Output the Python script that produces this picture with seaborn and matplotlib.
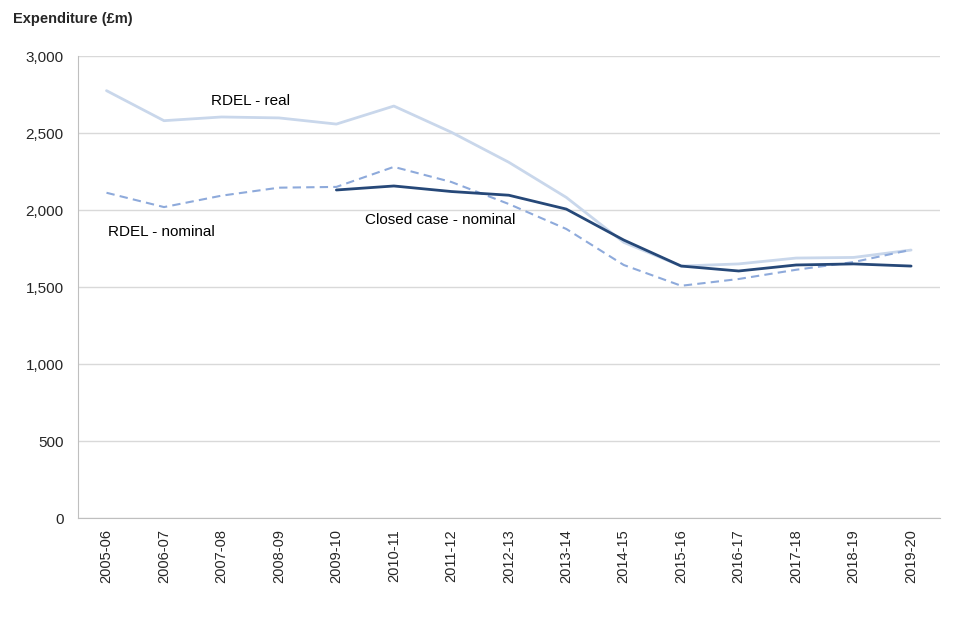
import numpy as np
import pandas as pd
import matplotlib
matplotlib.use('Agg')
import matplotlib.pyplot as plt
import seaborn as sns

years = ['2005-06', '2006-07', '2007-08', '2008-09', '2009-10', '2010-11', '2011-12',
         '2012-13', '2013-14', '2014-15', '2015-16', '2016-17', '2017-18', '2018-19', '2019-20']

rdel_real = [2775, 2580, 2604, 2598, 2558, 2675, 2505, 2310, 2082, 1790, 1636, 1650, 1688, 1692, 1740]
rdel_nominal = [2112, 2019, 2093, 2145, 2150, 2280, 2182, 2039, 1877, 1643, 1508, 1552, 1612, 1662, 1742]
closed_nominal = [np.nan, np.nan, np.nan, np.nan, 2130, 2156, 2120, 2096, 2006, 1805, 1636, 1604, 1643, 1650, 1636]

sns.set_style('white')
plt.rcParams['font.family'] = ['Liberation Sans', 'DejaVu Sans']

df = pd.DataFrame({'idx': range(len(years)), 'real': rdel_real,
                   'nominal': rdel_nominal, 'closed': closed_nominal})

fig = plt.figure(figsize=(9.6, 6.4), dpi=100)
ax = fig.add_axes([0.081, 0.1906, 0.898, 0.7219])

sns.lineplot(data=df, x='idx', y='real', ax=ax, color='#c9d7eb', linewidth=2)
sns.lineplot(data=df, x='idx', y='nominal', ax=ax, color='#8eaadb', linewidth=1.5,
             linestyle=(0, (4, 2.5)))
sns.lineplot(data=df.dropna(), x='idx', y='closed', ax=ax, color='#264878', linewidth=2)

ax.set_xlim(-0.5, 14.5)
ax.set_ylim(0, 3000)
ax.set_yticks(range(0, 3001, 500))
ax.set_yticklabels([f'{v:,}' for v in range(0, 3001, 500)], fontsize=11)
ax.set_xticks(range(len(years)))
ax.set_xticklabels(years, rotation=90, fontsize=10.5)
ax.tick_params(axis='x', length=4, color='#bfbfbf', width=1, pad=4)
ax.tick_params(axis='y', length=0, pad=10)
ax.grid(axis='y', color='#d9d9d9', linewidth=1)
ax.set_axisbelow(True)
ax.set_xlabel('')
ax.set_ylabel('')
for s in ['top', 'right']:
    ax.spines[s].set_visible(False)
for s in ['left', 'bottom']:
    ax.spines[s].set_color('#bfbfbf')

ax.text(2.5, 2705, 'RDEL - real', fontsize=11, ha='center', va='center', color='black')
ax.text(0.95, 1860, 'RDEL - nominal', fontsize=11, ha='center', va='center', color='black')
ax.text(5.8, 1935, 'Closed case - nominal', fontsize=11, ha='center', va='center', color='black')

fig.text(0.014, 0.982, 'Expenditure (£m)', fontsize=10.5, fontweight='bold', ha='left', va='top')

fig.savefig('out.png', dpi=100)
